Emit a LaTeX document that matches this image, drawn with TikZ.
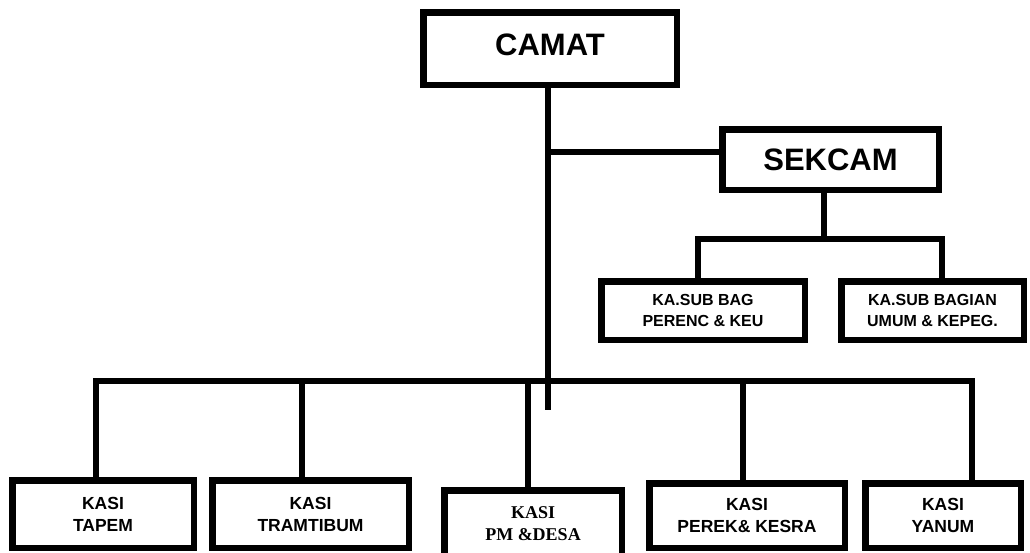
\documentclass[tikz,border=0pt]{standalone}
\usepackage{fontspec}
\setmainfont{Liberation Sans}
\newfontfamily\timesfont{Liberation Serif}

\begin{document}
\begin{tikzpicture}[x=1pt,y=-1pt]
  \tikzset{box/.style={draw=black, line width=6.5pt, fill=white, inner sep=0pt,
      align=center, font=\bfseries\fontsize{17.5}{22}\selectfont},
    link/.style={draw=black, line width=6pt}}
  \useasboundingbox (0,0) rectangle (1030,552);
  % top level
  \node[box, minimum width=253.5, minimum height=72.5, text depth=7pt, font=\bfseries\fontsize{31}{36}\selectfont] (camat) at (550,48.5) {CAMAT};
  \node[box, minimum width=216.5, minimum height=60.5, font=\bfseries\fontsize{31}{36}\selectfont] (sekcam) at (830.5,159.5) {SEKCAM};
  \node[box, minimum width=203.5, minimum height=58.5, font=\bfseries\fontsize{16}{20.5}\selectfont] (perenc) at (703,310.5) {KA.SUB BAG\\PERENC \& KEU};
  \node[box, minimum width=182.5, minimum height=58.5, font=\bfseries\fontsize{16}{20.5}\selectfont] (umum) at (932.5,310.5) {KA.SUB BAGIAN\\UMUM \& KEPEG.};
  % kasi row
  \node[box, minimum width=181.5, minimum height=67.5] (tapem) at (103,514) {KASI\\TAPEM};
  \node[box, minimum width=196.5, minimum height=67.5] (tramtibum) at (310.5,514) {KASI\\TRAMTIBUM};
  \node[box, minimum width=177.5, minimum height=67.5, font=\timesfont\bfseries\fontsize{18}{22}\selectfont] (pmdesa) at (533,524) {KASI\\PM \&DESA};
  \node[box, minimum width=195.5, minimum height=64.5] (perek) at (747,515.5) {KASI\\PEREK\& KESRA};
  \node[box, minimum width=155.5, minimum height=64.5] (yanum) at (943,515.5) {KASI\\YANUM};
  % connectors
  \coordinate (stem) at (548,410);
  \coordinate (split) at (548,152);
  \coordinate (bus) at (548,381);
  \coordinate (subbus) at (824,239);
  \draw[link] (camat.south -| stem) -- (stem);
  \draw[link] (split) -- (split -| sekcam.west);
  \draw[link] (sekcam.south -| subbus) -- (subbus);
  \draw[link] ([xshift=-5pt]perenc.north) |- (subbus) -| ([xshift=9.5pt]umum.north);
  \draw[link] ([xshift=-7pt]tapem.north) |- (bus) -| ([xshift=29pt]yanum.north);
  \draw[link] ([xshift=-8.5pt]tramtibum.north) |- (bus);
  \draw[link] ([xshift=-5pt]pmdesa.north) -- ([xshift=-5pt]pmdesa.north |- bus);
  \draw[link] ([xshift=-4pt]perek.north) -- ([xshift=-4pt]perek.north |- bus);
\end{tikzpicture}
\end{document}
